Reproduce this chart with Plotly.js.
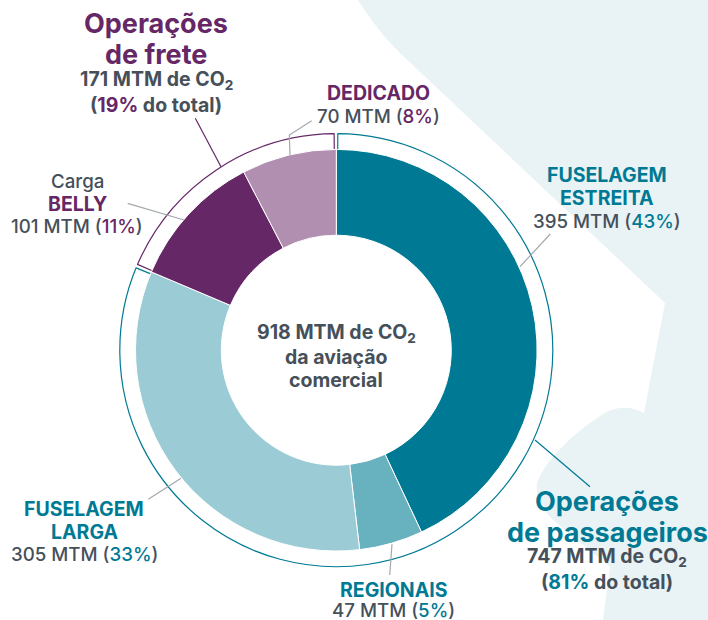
<!DOCTYPE html>
<html>
<head>
<meta charset="utf-8">
<script src="https://cdn.plot.ly/plotly-3.0.1.min.js"></script>
<style>html,body{margin:0;padding:0;background:#fff}#chart{width:708px;height:620px}</style>
</head>
<body>
<div id="chart"></div>
<script>
// Data
const segmentLabels = ['Fuselagem estreita', 'Regionais', 'Fuselagem larga', 'Carga belly', 'Dedicado'];
const segmentValues = [395, 47, 305, 101, 70];
const segmentColors = ['#007A94', '#68B1BF', '#9BCBD5', '#662766', '#B18FB1'];
const groupLabels = ['Operações de passageiros', 'Operações de frete'];
const groupValues = [747, 171];
const groupColors = ['#007A94', '#662766'];
const groupGap = 2.5;

const W = 708, H = 620;
const TEAL = '#007A94', PURPLE = '#662766', GRAY = '#46505A', LEADER = '#A3A8AC';
const FONT = 'Inter, "Open Sans", sans-serif';
const px = x => x / W, py = y => 1 - y / H;
const domainFor = (cx, cy, r) => ({x: [px(cx - r), px(cx + r)], y: [py(cy + r), py(cy - r)]});

const teal = s => `<span style="color:${TEAL}">${s}</span>`;
const purple = s => `<span style="color:${PURPLE}">${s}</span>`;
const CO2 = 'CO<sub>2</sub>';

// [center x, center y, size, weight, text]
const labels = [
  [156, 24, 27, 700, purple('Operações')],
  [156, 54, 27, 700, purple('de frete')],
  [156, 80, 19.5, 700, `171 MTM de ${CO2}`],
  [156, 105, 19.5, 700, `(${purple('19%')} do total)`],
  [378, 93, 19.5, 700, purple('DEDICADO')],
  [378, 116, 18.7, 500, `70 MTM (${purple('8%')})`],
  [77, 181, 18.7, 500, 'Carga'],
  [77, 204, 19.5, 700, purple('BELLY')],
  [77, 226, 18.7, 500, `101 MTM (${purple('11%')})`],
  [607, 175, 19.5, 700, teal('FUSELAGEM')],
  [607, 198, 19.5, 700, teal('ESTREITA')],
  [607, 221, 18.7, 500, `395 MTM (${teal('43%')})`],
  [84, 509, 19.5, 700, teal('FUSELAGEM')],
  [84, 532, 19.5, 700, teal('LARGA')],
  [84, 554, 18.7, 500, `305 MTM (${teal('33%')})`],
  [393, 590, 19.5, 700, teal('REGIONAIS')],
  [393, 610.5, 18.7, 500, `47 MTM (${teal('5%')})`],
  [607, 501, 27, 700, teal('Operações')],
  [607, 532, 27, 700, teal('de passageiros')],
  [607, 557, 19.5, 700, `747 MTM de ${CO2}`],
  [607, 582, 19.5, 700, `(${teal('81%')} do total)`],
  [336, 333, 19.5, 700, `918 MTM de ${CO2}`],
  [336, 357, 19.5, 700, 'da aviação'],
  [336, 380, 19.5, 700, 'comercial']
];

const leaders = [
  [[[550.3, 234], [520, 266.7]], LEADER],
  [[[535, 440], [590, 486.7]], TEAL],
  [[[392, 544.3], [389.7, 575]], LEADER],
  [[[181, 478.3], [148.3, 499.3]], LEADER],
  [[[127.7, 203.3], [184, 220]], LEADER],
  [[[311.7, 120.7], [289.3, 135], [290, 155]], LEADER],
  [[[195.3, 118.3], [221, 166.7]], PURPLE]
];

const P = (x, y) => `${px(x)},${py(y)}`;
const backdrop = `M${P(358, 0)} C${P(372, 22)} ${P(385, 38)} ${P(400, 53)} L${P(665, 303)} L${P(644, 413)} ` +
  `C${P(632, 406)} ${P(615, 405)} ${P(600, 416)} C${P(575, 432)} ${P(545, 460)} ${P(537, 483)} ` +
  `C${P(535, 500)} ${P(545, 512)} ${P(553, 520)} L${P(610, 567)} L${P(603, 620)} L${P(708, 620)} L${P(708, 0)} Z`;

const shapes = [{type: 'path', xref: 'paper', yref: 'paper', layer: 'below', path: backdrop,
  fillcolor: '#E9F3F5', line: {width: 0}}];
leaders.forEach(([pts, color]) => shapes.push({
  type: 'path', xref: 'paper', yref: 'paper', layer: 'above',
  path: 'M' + pts.map(p => P(p[0], p[1])).join(' L'),
  line: {color, width: 1.2}
}));

const annotations = labels.map(([x, y, size, weight, text]) => ({
  xref: 'paper', yref: 'paper', x: px(x), y: py(y), xanchor: 'center', yanchor: 'middle',
  showarrow: false, text, font: {family: FONT, size, color: GRAY, weight}
}));

const CX = 336.3, CY = 350.2, R = 200.8, RINNER = 115, ROUTER = 216.5;

const outer = {
  type: 'pie', sort: false, direction: 'clockwise', rotation: 0.4,
  domain: domainFor(CX, CY, ROUTER), hole: 198 / ROUTER,
  labels: [groupLabels[0], 'a', groupLabels[1], 'b'],
  values: [groupValues[0] - groupGap, groupGap, groupValues[1] - groupGap, groupGap],
  marker: {colors: ['#fff', 'rgba(0,0,0,0)', '#fff', 'rgba(0,0,0,0)'],
    line: {color: [groupColors[0], 'rgba(0,0,0,0)', groupColors[1], 'rgba(0,0,0,0)'], width: [1.2, 0, 1.2, 0]}},
  textinfo: 'none', hoverinfo: 'skip', showlegend: false
};
const ring = {
  type: 'pie', sort: false, direction: 'clockwise', rotation: 0,
  domain: domainFor(CX, CY, R), hole: RINNER / R,
  labels: segmentLabels, values: segmentValues,
  marker: {colors: segmentColors, line: {color: '#fff', width: 1}},
  textinfo: 'none', hoverinfo: 'label+value', showlegend: false
};

Plotly.newPlot('chart', [outer, ring], {
  width: W, height: H, margin: {l: 0, r: 0, t: 0, b: 0},
  paper_bgcolor: '#fff', showlegend: false, shapes, annotations
}, {displayModeBar: false, staticPlot: true});
</script>
</body>
</html>
